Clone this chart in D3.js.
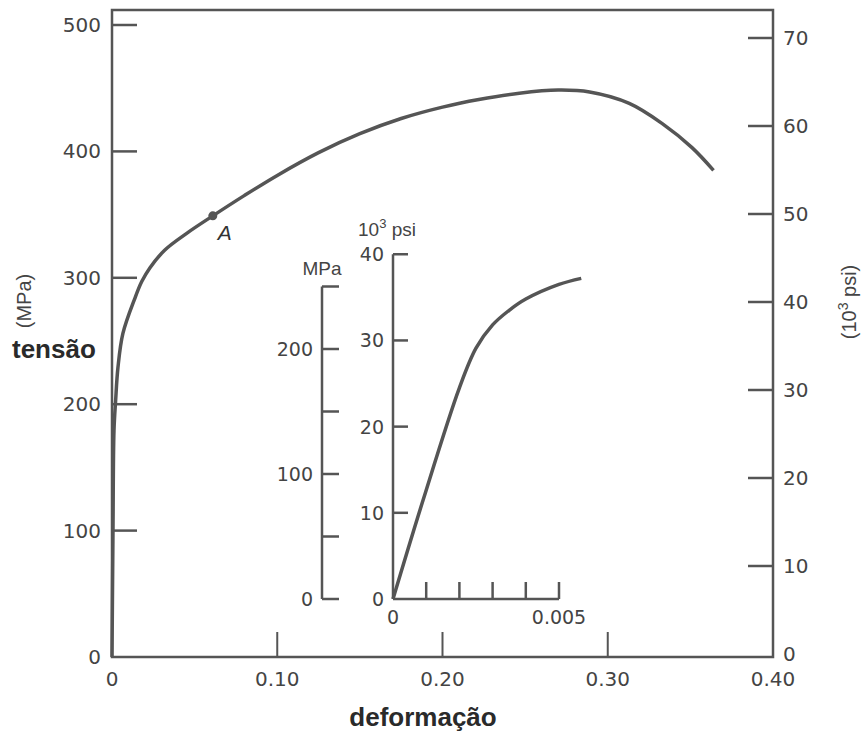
<!DOCTYPE html>
<html>
<head>
<meta charset="utf-8">
<script src="https://cdn.jsdelivr.net/npm/d3@7"></script>
<style>
  body { margin: 0; background: #fff; }
  text { font-family: "Liberation Sans", Arial, sans-serif; }
  .num { font-family: "DejaVu Sans", sans-serif; }
</style>
</head>
<body>
<script>
// main curve: strain vs stress (MPa)
const mainStrain = [0, 0.0006, 0.0012, 0.0022, 0.0036, 0.0066, 0.0139, 0.018, 0.023, 0.032, 0.045, 0.061, 0.08, 0.10, 0.125, 0.15, 0.175, 0.20, 0.222, 0.2465, 0.27, 0.289, 0.313, 0.333, 0.351, 0.364];
const mainStress = [0, 100, 179, 203, 229, 256, 284, 297, 308, 322, 335, 349, 365, 381, 399, 414, 426, 435, 441, 446, 448.5, 447, 438, 422, 403, 385];

// inset: strain vs stress (10^3 psi)
const insetStrain = [0, 0.0009, 0.002, 0.0025, 0.003, 0.0035, 0.004, 0.005, 0.00567];
const insetKsi = [0, 11.4, 24.5, 29.1, 31.8, 33.5, 34.8, 36.5, 37.2];

const xTicks = [0.1, 0.2, 0.3];
const xLabels = ['0', '0.10', '0.20', '0.30', '0.40'];
const mpaTicks = [0, 100, 200, 300, 400, 500];
const psiTicks = [0, 10, 20, 30, 40, 50, 60, 70];
const insetMpaTicks = [0, 50, 100, 150, 200, 250];
const insetMpaLabels = [0, 100, 200];
const insetPsiTicks = [0, 10, 20, 30, 40];
const insetXTicks = [0.001, 0.002, 0.003, 0.004, 0.005];

const pointA = { strain: 0.061, stress: 349 };
const KSI = 6.895; // MPa per 10^3 psi

const width = 861, height = 735;
const mLeft = 112, mRight = 773, mTop = 10, mBottom = 657;
const ink = '#555', labelInk = '#444';

const svg = d3.select('body').append('svg')
  .attr('width', width)
  .attr('height', height);

const x = d3.scaleLinear().domain([0, 0.4]).range([mLeft, mRight]);
const y = d3.scaleLinear().domain([0, 500]).range([mBottom, 25]);
const yPsi = d3.scaleLinear().domain([0, 70]).range([654, 38]);

// frame
svg.append('rect')
  .attr('x', mLeft).attr('y', mTop)
  .attr('width', mRight - mLeft).attr('height', mBottom - mTop)
  .attr('fill', 'none').attr('stroke', ink).attr('stroke-width', 2.5);

// left ticks (inside)
svg.selectAll('.ly').data(mpaTicks.filter(d => d > 0)).join('line')
  .attr('x1', mLeft).attr('x2', mLeft + 25)
  .attr('y1', d => y(d)).attr('y2', d => y(d))
  .attr('stroke', ink).attr('stroke-width', 2.5);
svg.selectAll('.lyt').data(mpaTicks).join('text')
  .attr('class', 'num')
  .attr('x', mLeft - 11).attr('y', d => y(d) + 7)
  .attr('text-anchor', 'end').attr('font-size', 20).attr('fill', labelInk)
  .text(d => d);

// right ticks (inside)
svg.selectAll('.ry').data(psiTicks.filter(d => d > 0)).join('line')
  .attr('x1', mRight).attr('x2', mRight - 25)
  .attr('y1', d => yPsi(d)).attr('y2', d => yPsi(d))
  .attr('stroke', ink).attr('stroke-width', 2.5);
svg.selectAll('.ryt').data(psiTicks).join('text')
  .attr('class', 'num')
  .attr('x', mRight + 10).attr('y', d => yPsi(d) + 7)
  .attr('font-size', 20).attr('fill', labelInk)
  .text(d => d);

// bottom ticks (inside)
svg.selectAll('.bx').data(xTicks).join('line')
  .attr('x1', d => x(d)).attr('x2', d => x(d))
  .attr('y1', mBottom).attr('y2', mBottom - 25)
  .attr('stroke', ink).attr('stroke-width', 2);
svg.selectAll('.bxt').data(xLabels).join('text')
  .attr('class', 'num')
  .attr('x', (d, i) => x(i * 0.1)).attr('y', mBottom + 29)
  .attr('text-anchor', 'middle').attr('font-size', 20).attr('fill', labelInk)
  .text(d => d);

// main curve
const line = d3.line()
  .x(d => x(d[0])).y(d => y(d[1]))
  .curve(d3.curveCatmullRom.alpha(0.5));
svg.append('path')
  .datum(d3.zip(mainStrain, mainStress))
  .attr('d', line)
  .attr('fill', 'none').attr('stroke', ink).attr('stroke-width', 3.5);

// point A
svg.append('circle')
  .attr('cx', x(pointA.strain)).attr('cy', y(pointA.stress)).attr('r', 4.5)
  .attr('fill', ink);
svg.append('text')
  .attr('x', x(pointA.strain) + 5).attr('y', y(pointA.stress) + 24)
  .attr('font-family', '"Liberation Serif", serif').attr('font-style', 'italic')
  .attr('font-size', 21).attr('fill', '#333')
  .text('A');

// axis titles
svg.append('text')
  .attr('x', 12).attr('y', 358)
  .attr('font-size', 26).attr('font-weight', 'bold').attr('fill', '#2a2a2a')
  .text('tensão');
svg.append('text')
  .attr('transform', 'translate(31,301) rotate(-90)')
  .attr('text-anchor', 'middle').attr('font-size', 20).attr('fill', labelInk)
  .text('(MPa)');
svg.append('text')
  .attr('x', 423).attr('y', 726)
  .attr('text-anchor', 'middle').attr('font-size', 26).attr('font-weight', 'bold').attr('fill', '#2a2a2a')
  .text('deformação');
const psiTitle = svg.append('text')
  .attr('transform', 'translate(856,302) rotate(-90)')
  .attr('text-anchor', 'middle').attr('font-size', 20).attr('fill', labelInk);
psiTitle.append('tspan').text('(10');
psiTitle.append('tspan').attr('dy', -8).attr('font-size', 14).text('3');
psiTitle.append('tspan').attr('dy', 8).text(' psi)');

// inset
const ix = d3.scaleLinear().domain([0, 0.005]).range([393, 559]);
const iy = d3.scaleLinear().domain([0, 250]).range([599, 286.5]);
const iyPsi = d3.scaleLinear().domain([0, 250 / KSI]).range([599, 286.5]);
const mpaAxisX = 322, insetTick = 17;

// MPa axis of inset
svg.append('line')
  .attr('x1', mpaAxisX).attr('x2', mpaAxisX)
  .attr('y1', iy(0)).attr('y2', iy(250))
  .attr('stroke', ink).attr('stroke-width', 2.5);
svg.selectAll('.imt').data(insetMpaTicks).join('line')
  .attr('x1', mpaAxisX).attr('x2', mpaAxisX + insetTick)
  .attr('y1', d => iy(d)).attr('y2', d => iy(d))
  .attr('stroke', ink).attr('stroke-width', 2.5);
svg.selectAll('.iml').data(insetMpaLabels).join('text')
  .attr('class', 'num')
  .attr('x', mpaAxisX - 9).attr('y', d => iy(d) + 7)
  .attr('text-anchor', 'end').attr('font-size', 19).attr('fill', labelInk)
  .text(d => d);
svg.append('text')
  .attr('x', 322).attr('y', 275)
  .attr('text-anchor', 'middle').attr('font-size', 19).attr('fill', labelInk)
  .text('MPa');

// psi axis of inset
svg.append('line')
  .attr('x1', ix(0)).attr('x2', ix(0))
  .attr('y1', iyPsi(0)).attr('y2', iyPsi(40))
  .attr('stroke', ink).attr('stroke-width', 2.5);
svg.selectAll('.ipt').data(insetPsiTicks.filter(d => d > 0)).join('line')
  .attr('x1', ix(0)).attr('x2', ix(0) + insetTick - 2)
  .attr('y1', d => iyPsi(d)).attr('y2', d => iyPsi(d))
  .attr('stroke', ink).attr('stroke-width', 2.5);
svg.selectAll('.ipl').data(insetPsiTicks).join('text')
  .attr('class', 'num')
  .attr('x', ix(0) - 9).attr('y', d => iyPsi(d) + 7)
  .attr('text-anchor', 'end').attr('font-size', 19).attr('fill', labelInk)
  .text(d => d);
const ipsiTitle = svg.append('text')
  .attr('x', 358).attr('y', 236)
  .attr('font-size', 19).attr('fill', labelInk);
ipsiTitle.append('tspan').text('10');
ipsiTitle.append('tspan').attr('dy', -8).attr('font-size', 13).text('3');
ipsiTitle.append('tspan').attr('dy', 8).text(' psi');

// strain axis of inset
svg.append('line')
  .attr('x1', ix(0)).attr('x2', ix(0.005))
  .attr('y1', iy(0)).attr('y2', iy(0))
  .attr('stroke', ink).attr('stroke-width', 2.5);
svg.selectAll('.ixt').data(insetXTicks).join('line')
  .attr('x1', d => ix(d)).attr('x2', d => ix(d))
  .attr('y1', iy(0)).attr('y2', iy(0) - insetTick)
  .attr('stroke', ink).attr('stroke-width', 2.5);
svg.selectAll('.ixl').data([0, 0.005]).join('text')
  .attr('class', 'num')
  .attr('x', d => ix(d)).attr('y', iy(0) + 25)
  .attr('text-anchor', 'middle').attr('font-size', 19).attr('fill', labelInk)
  .text(d => d === 0 ? '0' : '0.005');

// inset curve
const iline = d3.line()
  .x(d => ix(d[0])).y(d => iyPsi(d[1]))
  .curve(d3.curveCatmullRom.alpha(0.5));
svg.append('path')
  .datum(d3.zip(insetStrain, insetKsi))
  .attr('d', iline)
  .attr('fill', 'none').attr('stroke', ink).attr('stroke-width', 3.5);
</script>
</body>
</html>
